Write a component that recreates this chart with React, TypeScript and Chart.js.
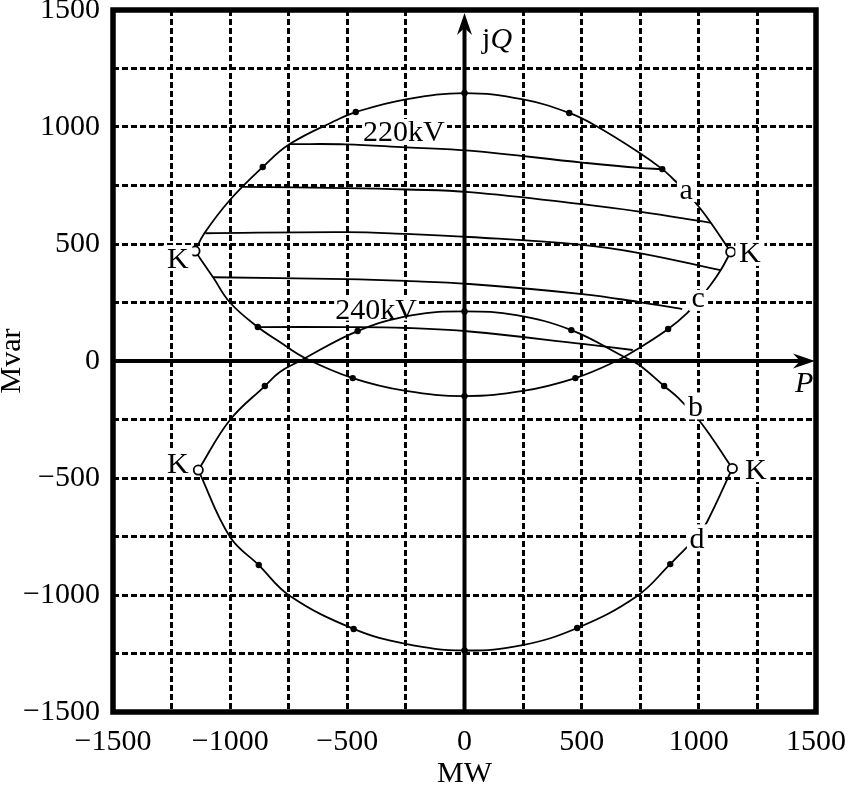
import React, { useEffect, useRef } from 'react';
import { Chart, registerables } from 'chart.js';

Chart.register(...registerables);

const SERIF = '"Liberation Serif", "Times New Roman", serif';

// axis ranges / ticks
const AXIS_MIN = -1500;
const AXIS_MAX = 1500;
const GRID_STEP = 250;
const LABEL_STEP = 500;

// 220 kV boundary, upper branch (a)
const A_P = [-1150, -1110, -1001, -861, -746, -545, -464, -250, 0, 250, 447, 562, 746, 844, 886, 947, 1001, 1052, 1136];
const A_Q = [470, 546, 688, 829, 927, 1030, 1064, 1118, 1145, 1118, 1060, 1004, 890, 820, 782, 722, 658, 590, 466];
// 220 kV boundary, lower branch (c)
const C_P = [-1150, -1073, -1001, -882, -788, -681, -477, -250, 0, 250, 473, 648, 746, 869, 950, 999, 1050, 1093, 1136];
const C_Q = [470, 358, 250, 145, 81, 13, -73, -128, -150, -128, -73, 0, 56, 137, 205, 262, 325, 388, 466];
// 240 kV boundary, upper branch (b)
const B_P = [-1136, -1001, -852, -788, -703, -456, -221, 0, 221, 456, 690, 746, 852, 912, 1010, 1143];
const B_Q = [-466, -252, -107, -47, 0, 128, 196, 212, 196, 132, 13, -17, -107, -158, -265, -459];
// 240 kV boundary, lower branch (d)
const D_P = [-1136, -1001, -878, -746, -473, -251, 0, 247, 481, 737, 878, 937, 994, 1035, 1143];
const D_Q = [-466, -751, -872, -1003, -1145, -1209, -1237, -1214, -1141, -1004, -868, -808, -750, -688, -459];

// inner operating lines
const L1_P = [-746, -506, -248, 21, 503, 746, 844];
const L1_Q = [927, 926, 913, 899, 848, 825, 820];
const L2_P = [-946, -506, -248, 21, 503, 746, 1052];
const L2_Q = [744, 739, 733, 722, 670, 638, 590];
const L3_P = [-1106, -506, -248, 21, 503, 746, 1093];
const L3_Q = [546, 551, 543, 530, 496, 461, 388];
const L4_P = [-1073, -506, -248, 21, 503, 746, 929];
const L4_Q = [358, 350, 342, 329, 286, 252, 222];
const L5_P = [-882, -506, -248, 21, 503, 718];
const L5_Q = [145, 145, 141, 126, 73, 47];

// marked points
const DOT_P = [-861, -464, 0, 447, 844, -882, -477, 0, 473, 869, -852, -456, 0, 456, 852, -878, -473, 0, 481, 878];
const DOT_Q = [829, 1064, 1145, 1060, 820, 145, -73, -150, -73, 137, -107, 128, 212, 132, -107, -872, -1145, -1237, -1141, -868];
// limit points K
const K_P = [-1150, 1136, -1136, 1143];
const K_Q = [470, 466, -466, -459];

// annotation texts (centre of the text, in P/Q units)
const NOTE_TEXT = ['220kV', '240kV'];
const NOTE_P = [-256, -375];
const NOTE_Q = [983, 224];
const TAG_TEXT = ['a', 'b', 'c', 'd', 'K', 'K', 'K', 'K'];
const TAG_P = [947, 984, 999, 994, -1223, -1223, 1218, 1244];
const TAG_Q = [724, -192, 259, -756, 440, -440, 462, -462];

const pts = (P: number[], Q: number[]) => P.map((p, i) => ({ x: p, y: Q[i] }));

const fmt = (v: number) => (v < 0 ? '\u2212' + Math.abs(v) : String(v));

function inkText(ctx: CanvasRenderingContext2D, text: string, cx: number, cy: number, pad: number) {
  ctx.font = `30px ${SERIF}`;
  const m = ctx.measureText(text);
  const w = m.actualBoundingBoxLeft + m.actualBoundingBoxRight;
  const h = m.actualBoundingBoxAscent + m.actualBoundingBoxDescent;
  const left = cx - w / 2;
  const top = cy - h / 2;
  ctx.fillStyle = '#fff';
  ctx.fillRect(left - pad, top - pad, w + 2 * pad, h + 2 * pad);
  ctx.fillStyle = '#000';
  ctx.textAlign = 'left';
  ctx.textBaseline = 'alphabetic';
  ctx.fillText(text, left + m.actualBoundingBoxLeft, top + m.actualBoundingBoxAscent);
}

function arrowHead(ctx: CanvasRenderingContext2D, tx: number, ty: number, dir: 'up' | 'right') {
  const L = 22, W = 7.5, N = 15;
  ctx.beginPath();
  if (dir === 'up') {
    ctx.moveTo(tx, ty);
    ctx.lineTo(tx - W, ty + L);
    ctx.lineTo(tx, ty + N);
    ctx.lineTo(tx + W, ty + L);
  } else {
    ctx.moveTo(tx, ty);
    ctx.lineTo(tx - L, ty - W);
    ctx.lineTo(tx - N, ty);
    ctx.lineTo(tx - L, ty + W);
  }
  ctx.closePath();
  ctx.fill();
}

const decor = {
  id: 'decor',
  beforeDatasetsDraw(chart: any) {
    const { ctx, chartArea: ca, scales } = chart;
    const sx = scales.x, sy = scales.y;
    const x0 = sx.getPixelForValue(0);
    const y0 = sy.getPixelForValue(0);
    ctx.save();
    // texts that sit under the curves
    NOTE_TEXT.forEach((t, i) => inkText(ctx, t, sx.getPixelForValue(NOTE_P[i]), sy.getPixelForValue(NOTE_Q[i]), 2));
    // frame
    ctx.strokeStyle = '#000';
    ctx.lineWidth = 5.5;
    ctx.strokeRect(ca.left, ca.top, ca.right - ca.left, ca.bottom - ca.top);
    // axes with arrows
    ctx.lineWidth = 4;
    ctx.beginPath();
    ctx.moveTo(ca.left, y0);
    ctx.lineTo(ca.right - 10, y0);
    ctx.moveTo(x0, ca.bottom);
    ctx.lineTo(x0, ca.top + 12);
    ctx.stroke();
    ctx.fillStyle = '#000';
    arrowHead(ctx, x0, ca.top + 3, 'up');
    arrowHead(ctx, ca.right - 1, y0, 'right');
    ctx.restore();
  },
  afterDatasetsDraw(chart: any) {
    const { ctx, scales } = chart;
    const sx = scales.x, sy = scales.y;
    ctx.save();
    TAG_TEXT.forEach((t, i) => inkText(ctx, t, sx.getPixelForValue(TAG_P[i]), sy.getPixelForValue(TAG_Q[i]), 3.5));
    // axis names
    ctx.fillStyle = '#000';
    ctx.textAlign = 'left';
    ctx.textBaseline = 'alphabetic';
    let jx = sx.getPixelForValue(75);
    const jy = sy.getPixelForValue(1338);
    ctx.font = `30px ${SERIF}`;
    ctx.fillText('j', jx, jy);
    jx += ctx.measureText('j').width;
    ctx.font = `italic 30px ${SERIF}`;
    ctx.fillText('Q', jx, jy);
    ctx.fillText('P', sx.getPixelForValue(1410), sy.getPixelForValue(-132));
    ctx.restore();
  },
};

export default function App() {
  const ref = useRef<HTMLCanvasElement>(null);
  useEffect(() => {
    const canvas = ref.current;
    if (!canvas) return;
    const lineDs = (P: number[], Q: number[]) => ({
      data: pts(P, Q),
      showLine: true,
      borderColor: '#000',
      borderWidth: 1.8,
      pointRadius: 0,
      pointHoverRadius: 0,
      fill: false,
      tension: 0.4,
      order: 3,
    });
    const axisCommon = (title: string) => ({
      type: 'linear' as const,
      min: AXIS_MIN,
      max: AXIS_MAX,
      grid: {
        color: (c: any) => {
          const v = c.tick ? c.tick.value : 1;
          return v === 0 || Math.abs(v) === AXIS_MAX ? 'rgba(0,0,0,0)' : '#000';
        },
        lineWidth: 3,
        drawTicks: false,
      },
      border: { display: false, dash: [6, 3] },
      ticks: {
        stepSize: GRID_STEP,
        autoSkip: false,
        maxRotation: 0,
        color: '#000',
        font: { family: SERIF, size: 30, lineHeight: 0.6 },
        callback: (v: any) => (Math.round(v) % LABEL_STEP === 0 ? fmt(Math.round(v)) : ''),
      },
      title: {
        display: true,
        text: title,
        color: '#000',
        font: { family: SERIF, size: 30, lineHeight: 0.8 },
        padding: 0,
      },
    });
    const xAxis: any = axisCommon('MW');
    xAxis.ticks.padding = 12;
    xAxis.ticks.font = { family: SERIF, size: 30, lineHeight: 1.2 };
    xAxis.afterFit = (s: any) => {
      s.height = 74;
      s.paddingLeft = 0;
      s.paddingRight = 0;
    };
    const yAxis: any = axisCommon('Mvar');
    yAxis.ticks.padding = 13;
    yAxis.afterFit = (s: any) => {
      s.width = 113;
      s.paddingTop = 0;
      s.paddingBottom = 0;
    };

    const chart = new Chart(canvas, {
      type: 'scatter',
      data: {
        datasets: [
          {
            data: pts(K_P, K_Q),
            pointRadius: 4.6,
            pointBackgroundColor: '#fff',
            pointBorderColor: '#000',
            pointBorderWidth: 1.8,
            showLine: false,
            order: 1,
          } as any,
          {
            data: pts(DOT_P, DOT_Q),
            pointRadius: 3.2,
            pointBackgroundColor: '#000',
            pointBorderColor: '#000',
            pointBorderWidth: 0,
            showLine: false,
            order: 2,
          } as any,
          lineDs(A_P, A_Q),
          lineDs(C_P, C_Q),
          lineDs(B_P, B_Q),
          lineDs(D_P, D_Q),
          lineDs(L1_P, L1_Q),
          lineDs(L2_P, L2_Q),
          lineDs(L3_P, L3_Q),
          lineDs(L4_P, L4_Q),
          lineDs(L5_P, L5_Q),
        ],
      },
      options: {
        responsive: false,
        animation: false,
        events: [],
        layout: { padding: { left: 0, right: 37, top: 10, bottom: 0 } },
        plugins: { legend: { display: false }, tooltip: { enabled: false } },
        scales: { x: xAxis, y: yAxis },
      } as any,
      plugins: [decor],
    });
    return () => chart.destroy();
  }, []);

  return (
    <div style={{ position: 'absolute', left: 0, top: 0, width: 853, height: 786, background: '#fff' }}>
      <canvas ref={ref} width={853} height={786} style={{ display: 'block' }} />
    </div>
  );
}
